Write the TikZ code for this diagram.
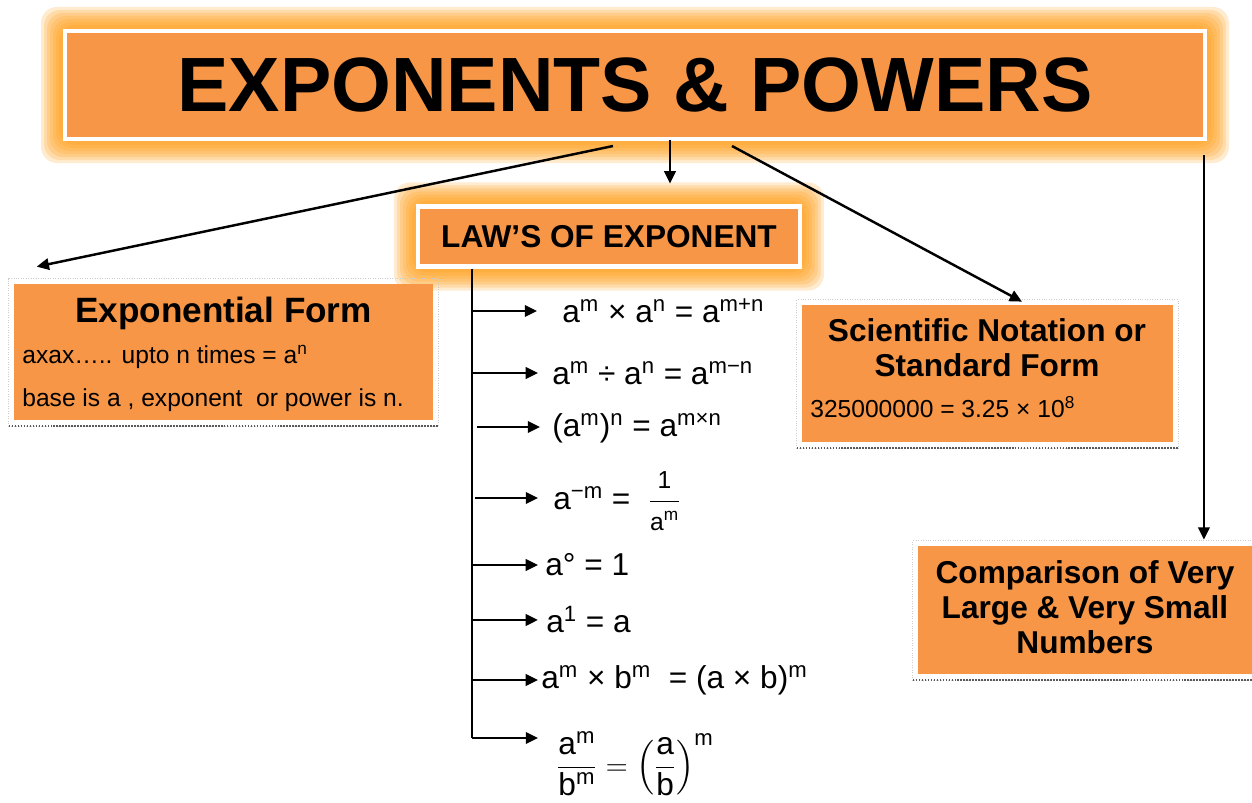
\documentclass[tikz,border=0pt]{standalone}
\usepackage{amsmath}
\usepackage{fontspec}
\setmainfont{Liberation Sans}
\usetikzlibrary{positioning,calc,arrows.meta,backgrounds}

\definecolor{boxorange}{HTML}{F79646}
\definecolor{gloworange}{HTML}{FF9A10}

\newcommand{\pw}[1]{\textsuperscript{#1}}
\newcommand{\fs}[2]{\fontsize{#1}{#2}\selectfont}

\begin{document}
\begin{tikzpicture}[x=0.02cm, y=-0.02cm,
    headbox/.style={rectangle, fill=boxorange, draw=white, line width=2.3pt, align=center},
    infobox/.style={rectangle, fill=boxorange, inner sep=0pt},
    framepen/.style={draw=gray!40, densely dotted, line width=0.4pt},
    shadowpen/.style={draw=black!65, line width=1.3pt, dash pattern=on 1pt off 0.7pt},
    txt/.style={inner sep=0pt},
    arrow/.style={-{Triangle[length=7pt,width=6.5pt]}, line width=1.4pt},
    spine/.style={line width=1.2pt},
    formula/.style={anchor=west, inner sep=0pt, font=\fs{18}{22}}
]
    \useasboundingbox (0,0) rectangle (1252,803);

    % main heading and laws heading
    \node[headbox, minimum width=22.8cm, minimum height=2.16cm, font=\fs{43.8}{50}\bfseries] (title) at (635,85) {EXPONENTS \& POWERS};
    \node[headbox, minimum width=7.64cm, minimum height=1.2cm, font=\fs{18}{22}\bfseries] (laws) at (609,236.5) {LAW’S OF EXPONENT};

    % soft glow behind the two headings
    \begin{scope}[on background layer]
        \foreach \nd in {title,laws}
            \foreach \g in {22,19,16,13,10,7,4}
                \fill[gloworange, opacity=0.2, rounded corners=9pt] ($(\nd.south west)+(-\g,\g)$) rectangle ($(\nd.north east)+(\g,-\g)$);
    \end{scope}

    % side boxes
    \node[infobox, minimum width=8.38cm, minimum height=2.72cm] (expo) at (223.5,352) {};
    \node[infobox, minimum width=7.42cm, minimum height=2.74cm] (sci) at (987.5,373.5) {};
    \node[infobox, minimum width=6.8cm, minimum height=2.56cm] (comp) at (1088,610) {};

    \foreach \bx in {expo,sci,comp} {
        \draw[framepen] ($(\bx.south west)+(-5,6)$) rectangle ($(\bx.north east)+(5,-5)$);
        \draw[shadowpen] ($(\bx.south west)+(-5,6)$) -- ($(\bx.south east)+(5,6)$);
    }

    \node[txt, font=\fs{20}{24}\bfseries] (expohead) at (223.5,313) {Exponential Form};
    \node[txt, anchor=west, font=\fs{14}{17}] (expoline1) at (22,357) {axax….. upto n times = a\pw{n}};
    \node[txt, anchor=west, font=\fs{14}{17}] (expoline2) at (22,400) {base is a , exponent\ \ or power is n.};

    \node[txt, align=center, font=\fs{18}{20}\bfseries] (scihead) at (987,348) {Scientific Notation or\\Standard Form};
    \node[txt, anchor=west, font=\fs{14}{17}] (scibody) at (810,407) {325000000 = 3.25 × 10\pw{8}};

    \node[txt, align=center, font=\fs{18}{20}\bfseries] (comptext) at (1085,607) {Comparison of Very\\Large \& Very Small\\Numbers};

    % connectors from the main heading
    \draw[arrow] ($(title.south)+(-22,5)$) -- ($(expo.north west)+(23,-17)$);
    \draw[arrow] ($(title.south)+(35,-1)$) -- ($(laws.north)+(61,-21)$);
    \draw[arrow] ($(title.south)+(97,5)$) -- ($(sci.north)+(34.5,-3)$);
    \draw[arrow] ($(title.south east)+(-3,14)$) -- ($(title.south east |- comp.north)+(-3,-6)$);

    % the laws
    \node[formula] (law1) at (562,311) {a\pw{m} × a\pw{n} = a\pw{m+n}};
    \node[formula] (law2) at (552,373) {a\pw{m} ÷ a\pw{n} = a\pw{m−n}};
    \node[formula] (law3) at (552,428) {(a\pw{m})\pw{n} = a\pw{m×n}};
    \node[formula] (law4) at (553,501) {a\pw{−m} =\ \ $\dfrac{\text{\fs{14}{16}1}}{\text{\fs{14}{16}a\pw{m}}}$};
    \node[formula] (law5) at (545,565) {a° = 1};
    \node[formula] (law6) at (546,620) {a\pw{1} = a};
    \node[formula] (law7) at (541,680) {a\pw{m} × b\pw{m}\ \ = (a × b)\pw{m}};
    \node[formula] (law8) at (556,764) {$\dfrac{\text{a\pw{m}}}{\text{b\pw{m}}}=\left(\dfrac{\text{a}}{\text{b}}\right)^{\text{m}}$};

    \coordinate (b1) at (472,311);
    \coordinate (b2) at (472,373);
    \coordinate (b3) at (477,427);
    \coordinate (b4) at (475,498);
    \coordinate (b5) at (472,565);
    \coordinate (b6) at (472,620);
    \coordinate (b7) at (472,680);
    \coordinate (b8) at (472,738);

    \draw[spine] (laws.south -| b1) -- (b8);
    \foreach \n/\g in {1/14.2pt,2/8pt,3/6.8pt,4/8.5pt,5/4pt,6/4.6pt,7/1.7pt,8/10.2pt}
        \draw[arrow, shorten >=\g] (b\n) -- (b\n -| law\n.west);
\end{tikzpicture}
\end{document}
